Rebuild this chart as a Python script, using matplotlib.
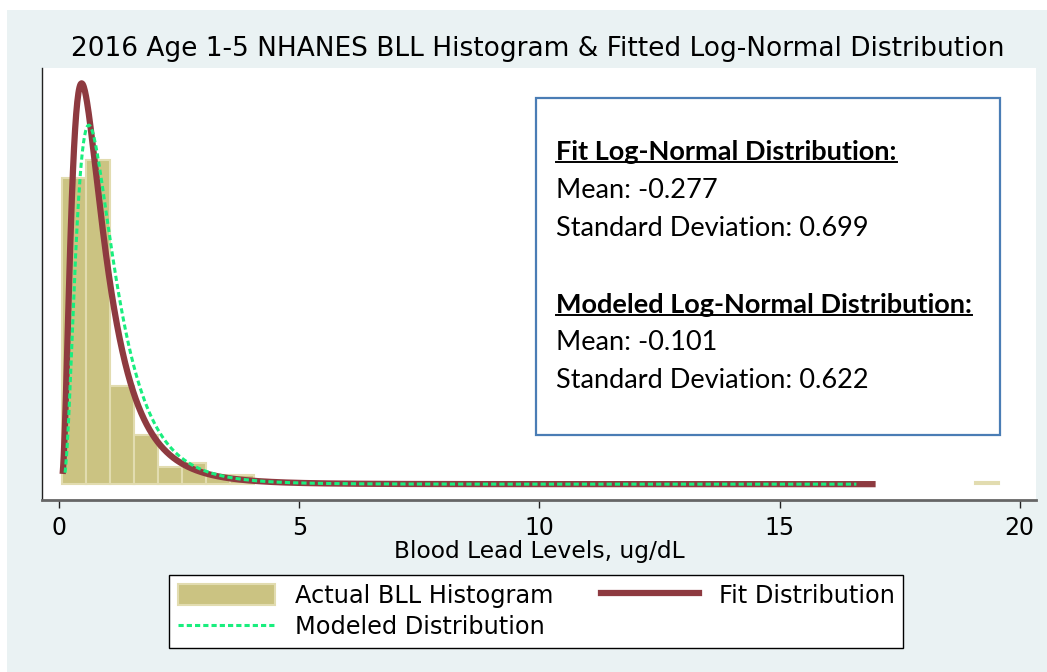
import numpy as np
import matplotlib
matplotlib.use("Agg")
from matplotlib import pyplot as plt
from matplotlib.patches import Rectangle, Patch
from matplotlib.lines import Line2D

# histogram of blood lead levels (density, bin width 0.5 starting at 0.06)
bin_start = 0.06
bin_width = 0.5
bin_density = [0.734, 0.777, 0.235, 0.118, 0.041, 0.050, 0.022, 0.022] + [0.0] * 30 + [0.005]

# log-normal parameters shown in the text box
fit_mean, fit_sd = -0.277, 0.699
mod_mean, mod_sd = -0.101, 0.622
fit_range = (0.07, 17.0)
mod_range = (0.12, 16.6)

title = '2016 Age 1-5 NHANES BLL Histogram & Fitted Log-Normal Distribution'
xlab = 'Blood Lead Levels, ug/dL'
xticks = [0, 5, 10, 15, 20]

BAR = '#CBC382'
BAR_EDGE = '#E2DCB0'
FIT = '#8E3A40'
MOD = '#19EE7E'
SANS = 'DejaVu Sans'


def lognorm_pdf(x, mu, sd):
    return np.exp(-(np.log(x) - mu) ** 2 / (2 * sd ** 2)) / (x * sd * np.sqrt(2 * np.pi))


fig = plt.figure(figsize=(10.47, 6.72), dpi=100)
fig.patch.set_facecolor('white')
fig.patches.append(Rectangle((7 / 1047, 0), 1, 1 - 10 / 672, transform=fig.transFigure,
                             facecolor='#EAF2F3', edgecolor='none', zorder=-10))

ax = fig.add_axes([42 / 1047, 1 - 500 / 672, (1036 - 42) / 1047, (500 - 68) / 672])
ax.set_facecolor('white')

lefts = [bin_start + i * bin_width for i in range(len(bin_density))]
keep = [i for i, d in enumerate(bin_density) if d > 0]
ax.bar([lefts[i] for i in keep], [bin_density[i] for i in keep], width=bin_width,
       align='edge', color=BAR, edgecolor=BAR_EDGE, linewidth=1.5, zorder=1)

xf = np.linspace(fit_range[0], fit_range[1], 1500)
ax.plot(xf, lognorm_pdf(xf, fit_mean, fit_sd), color=FIT, lw=4.5,
        solid_capstyle='butt', zorder=2)
xm = np.linspace(mod_range[0], mod_range[1], 1500)
ax.plot(xm, lognorm_pdf(xm, mod_mean, mod_sd), color=MOD, lw=2.2,
        dashes=(1.7, 1.0), zorder=3)

ax.set_xlim(-0.36, 20.34)
ax.set_ylim(-0.038, 0.998)
ax.set_xticks(xticks)
ax.set_xticklabels([str(t) for t in xticks], fontsize=17, family=SANS)
ax.set_yticks([])
ax.tick_params(axis='x', length=5.5, width=1, color='#222222', pad=6)
for s in ['top', 'right']:
    ax.spines[s].set_visible(False)
ax.spines['left'].set_color('#222222')
ax.spines['left'].set_linewidth(1.0)
ax.spines['bottom'].set_color('#666666')
ax.spines['bottom'].set_linewidth(2.0)

ax.set_xlabel(xlab, fontsize=16.8, family=SANS, labelpad=0)
fig.text(538 / 1047, 1 - 49 / 672, title, ha='center', va='center',
         fontsize=19, family=SANS)

# text box with distribution parameters
fig.patches.append(Rectangle((536 / 1047, 1 - 435 / 672), (1000 - 536) / 1047, (435 - 98) / 672,
                             transform=fig.transFigure, facecolor='white',
                             edgecolor='#4A7DB5', lw=1.6, zorder=5))
lines = [('Fit Log-Normal Distribution:', True, 152),
         ('Mean: -0.277', False, 190),
         ('Standard Deviation: 0.699', False, 228),
         ('Modeled Log-Normal Distribution:', True, 305),
         ('Mean: -0.101', False, 343),
         ('Standard Deviation: 0.622', False, 381)]
fig.canvas.draw()
for txt, bold, y in lines:
    t = fig.text(556 / 1047, 1 - y / 672, txt, ha='left', va='center', fontsize=19.5,
                 family='Lato', fontweight='bold' if bold else 'normal', zorder=6)
    if bold:
        # underline the header
        bb = t.get_window_extent(renderer=fig.canvas.get_renderer())
        fig.add_artist(Line2D([bb.x0 / 1047, bb.x1 / 1047], [(bb.y0 + 2) / 672] * 2,
                              transform=fig.transFigure, color='black', lw=1.4, zorder=7))

handles = [Patch(facecolor=BAR, edgecolor=BAR_EDGE, lw=1.5),
           Line2D([], [], color=MOD, lw=2.2, dashes=(1.7, 1.0)),
           Line2D([], [], color=FIT, lw=4.5)]
labels = ['Actual BLL Histogram', 'Modeled Distribution', 'Fit Distribution']
leg = fig.legend(handles, labels, ncol=2, loc='center',
                 bbox_to_anchor=(536 / 1047, 1 - 611.5 / 672),
                 prop={'family': SANS, 'size': 17.3},
                 frameon=True, fancybox=False, edgecolor='black', framealpha=1,
                 handlelength=4.05, handleheight=0.95, handletextpad=0.83,
                 columnspacing=2.0, labelspacing=0.32, borderpad=0.35,
                 borderaxespad=0)
leg.get_frame().set_linewidth(1.0)

fig.savefig('out.png', dpi=100)
